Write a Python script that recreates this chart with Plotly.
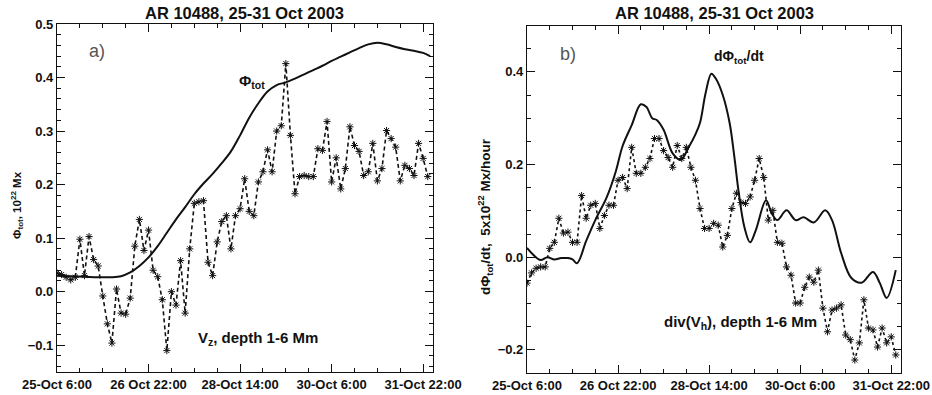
import plotly.graph_objects as go

# --- data -----------------------------------------------------------------
# time axis: hours since 25 Oct 2003 06:00 UT
tick_hours = [0, 40, 80, 120, 160]
tick_labels = ["25-Oct 6:00", "26 Oct 22:00", "28-Oct 14:00", "30-Oct 6:00", "31-Oct 22:00"]

# total magnetic flux of AR 10488 (10^22 Mx)
flux_hours = [0, 6, 12, 18, 24, 28, 32, 36, 40, 44, 48, 52, 56, 60, 64, 68, 72, 76, 80, 84,
              88, 92, 96, 100, 104, 108, 112, 116, 120, 124, 128, 132, 136, 140, 144, 148,
              152, 156, 160, 163]
flux_tot = [0.030, 0.029, 0.028, 0.027, 0.027, 0.029, 0.036, 0.048, 0.064, 0.085,
            0.110, 0.135, 0.158, 0.182, 0.202, 0.220, 0.240, 0.262, 0.292, 0.325,
            0.352, 0.374, 0.386, 0.391, 0.398, 0.406, 0.414, 0.422, 0.431, 0.439,
            0.447, 0.455, 0.462, 0.465, 0.462, 0.457, 0.453, 0.450, 0.446, 0.440]

# 2-hour cadence of the subsurface flow maps
flow_hours = list(range(0, 164, 2))

# vertical velocity Vz, depth 1-6 Mm
vz = [0.035, 0.032, 0.027, 0.022, 0.027, 0.098, 0.030, 0.103, 0.060, 0.048,
      -0.008, -0.060, -0.096, 0.005, -0.040, -0.042, -0.012, 0.085, 0.135, 0.077,
      0.115, 0.040, 0.028, -0.015, -0.110, 0.000, -0.025, 0.058, -0.040, 0.080,
      0.165, 0.168, 0.170, 0.055, 0.030, 0.093, 0.131, 0.142, 0.080, 0.142,
      0.155, 0.211, 0.150, 0.142, 0.205, 0.224, 0.265, 0.224, 0.300, 0.310,
      0.426, 0.292, 0.183, 0.215, 0.217, 0.215, 0.215, 0.267, 0.264, 0.318,
      0.205, 0.250, 0.192, 0.230, 0.308, 0.273, 0.262, 0.217, 0.224, 0.277,
      0.207, 0.230, 0.301, 0.286, 0.270, 0.207, 0.236, 0.230, 0.217, 0.277,
      0.249, 0.215]

# flux emergence rate dPhi_tot/dt
rate_hours = [0, 3, 6, 9, 12, 15, 18, 20, 22, 26, 30, 35, 39, 42, 46, 50, 52.5, 55, 57, 60,
              64, 67.5, 71, 74, 76, 78.5, 81, 83, 86, 89, 91, 93, 95.5, 98, 100.5, 105,
              107.5, 110, 114, 118, 121.5, 126, 131, 134, 138, 142.5, 147, 152, 155, 158, 162]
rate = [0.020, 0.004, -0.006, 0.000, -0.005, -0.002, -0.002, -0.005, -0.013, 0.035,
        0.080, 0.129, 0.185, 0.240, 0.285, 0.330, 0.324, 0.300, 0.296, 0.275,
        0.224, 0.210, 0.237, 0.265, 0.290, 0.355, 0.396, 0.385, 0.350, 0.290,
        0.220, 0.140, 0.065, 0.032, 0.058, 0.123, 0.095, 0.080, 0.101, 0.080,
        0.086, 0.075, 0.101, 0.080, 0.009, -0.045, -0.055, -0.032, -0.056, -0.088,
        -0.028]

# horizontal divergence div(Vh), depth 1-6 Mm
div_vh = [-0.056, -0.034, -0.024, -0.021, -0.021, 0.019, 0.032, 0.084, 0.052, 0.054,
          0.032, 0.032, 0.133, 0.084, 0.112, 0.116, 0.062, 0.090, 0.112, 0.112,
          0.166, 0.172, 0.148, 0.237, 0.181, 0.181, 0.194, 0.213, 0.256, 0.256,
          0.230, 0.215, 0.194, 0.241, 0.213, 0.237, 0.194, 0.166, 0.105, 0.062,
          0.062, 0.073, 0.069, 0.022, 0.047, 0.105, 0.138, 0.118, 0.116, 0.130,
          0.166, 0.213, 0.172, 0.080, 0.101, 0.032, 0.030, -0.021, -0.039, -0.099,
          -0.099, -0.065, -0.043, -0.054, -0.028, -0.110, -0.161, -0.114, -0.110, -0.103,
          -0.168, -0.178, -0.222, -0.185, -0.092, -0.153, -0.157, -0.194, -0.153, -0.185,
          -0.172, -0.211]

# --- figure ---------------------------------------------------------------
W, H = 932, 395
FONT = "Liberation Sans, Arial, Helvetica, sans-serif"
INK = "#111111"

fig = go.Figure()

star = dict(symbol="asterisk-open", size=6, line=dict(color=INK, width=1))

fig.add_trace(go.Scatter(x=flux_hours, y=flux_tot, mode="lines", line_shape="spline",
                         line=dict(color=INK, width=2), xaxis="x", yaxis="y",
                         showlegend=False))
fig.add_trace(go.Scatter(x=flow_hours, y=vz, mode="lines+markers",
                         line=dict(color=INK, width=1.6, dash="4px,3px"),
                         marker=star, xaxis="x", yaxis="y", showlegend=False))

fig.add_trace(go.Scatter(x=rate_hours, y=rate, mode="lines", line_shape="spline",
                         line=dict(color=INK, width=2), xaxis="x2", yaxis="y2",
                         showlegend=False))
fig.add_trace(go.Scatter(x=flow_hours, y=div_vh, mode="lines+markers",
                         line=dict(color=INK, width=1.6, dash="dot"),
                         marker=star, xaxis="x2", yaxis="y2", showlegend=False))

tickfont = dict(family=FONT, size=13, color=INK, weight="bold")


def xaxis(domain, anchor):
    return dict(domain=domain, anchor=anchor, range=[0, 164.3], automargin=False,
                tickvals=tick_hours, ticktext=tick_labels,
                ticks="inside", ticklen=8, tickwidth=1, tickcolor=INK,
                minor=dict(dtick=10, tick0=0, ticks="inside", ticklen=4, tickcolor=INK),
                showline=True, linecolor=INK, linewidth=1.2, mirror="ticks",
                showgrid=False, zeroline=False, tickfont=tickfont)


def yaxis(domain, anchor, rng, dtick, minor):
    return dict(domain=domain, anchor=anchor, range=rng, dtick=dtick, tick0=0,
                automargin=False, tickformat=".1f",
                ticks="inside", ticklen=8, tickwidth=1, tickcolor=INK,
                minor=dict(dtick=minor, tick0=0, ticks="inside", ticklen=4, tickcolor=INK),
                showline=True, linecolor=INK, linewidth=1.2, mirror="ticks",
                showgrid=False, zeroline=False, tickfont=tickfont)


y_dom_a = [1 - 372 / H, 1 - 24 / H]
y_dom_b = [1 - 373 / H, 1 - 25.5 / H]

fig.update_layout(
    width=W, height=H,
    margin=dict(l=0, r=0, t=0, b=0, autoexpand=False),
    paper_bgcolor="white", plot_bgcolor="white",
    xaxis=xaxis([57 / W, 433 / W], "y"),
    yaxis=yaxis(y_dom_a, "x", [-0.15, 0.5], 0.1, 0.02),
    xaxis2=xaxis([527 / W, 901 / W], "y2"),
    yaxis2=yaxis(y_dom_b, "x2", [-0.25, 0.5], 0.2, 0.05),
)

title_font = dict(family=FONT, size=16.5, color=INK, weight="bold")
bold = dict(family=FONT, size=15, color=INK, weight="bold")
label_ab = dict(family=FONT, size=18, color="#555555")


def note(text, x, y, font, xref="paper", yref="paper", **kw):
    return dict(text=text, x=x, y=y, xref=xref, yref=yref, xanchor="center",
                yanchor="middle", showarrow=False, font=font, **kw)


annotations = [
    # panel titles
    note("AR 10488, 25-31 Oct 2003", 245 / W, 1 - 13 / H, title_font),
    note("AR 10488, 25-31 Oct 2003", 714 / W, 1 - 13 / H, title_font),
    # y-axis titles
    note("Φ<sub>tot</sub>, 10<sup>22</sup> Mx", 17 / W, 1 - 205 / H,
         dict(family=FONT, size=11.5, color=INK, weight="bold"), textangle=-90),
    note("dΦ<sub>tot</sub>/dt,  5x10<sup>22</sup> Mx/hour", 485 / W, 1 - 217 / H,
         dict(family=FONT, size=13.5, color=INK, weight="bold"), textangle=-90),
    # panel a labels
    note("a)", 17.5, 0.450, label_ab, "x", "y"),
    note("Φ<sub>tot</sub>", 85, 0.392, bold, "x", "y"),
    note("V<sub>z</sub>, depth 1-6 Mm", 88, -0.088, bold, "x", "y"),
    # panel b labels
    note("b)", 17.9, 0.439, label_ab, "x2", "y2"),
    note("dΦ<sub>tot</sub>/dt", 93, 0.432, dict(family=FONT, size=14, color=INK,
                                                weight="bold"), "x2", "y2"),
    note("div(V<sub>h</sub>), depth 1-6 Mm", 94, -0.142, bold, "x2", "y2",
         bgcolor="white"),
]
fig.update_layout(annotations=annotations)

fig.write_html("out.html")
